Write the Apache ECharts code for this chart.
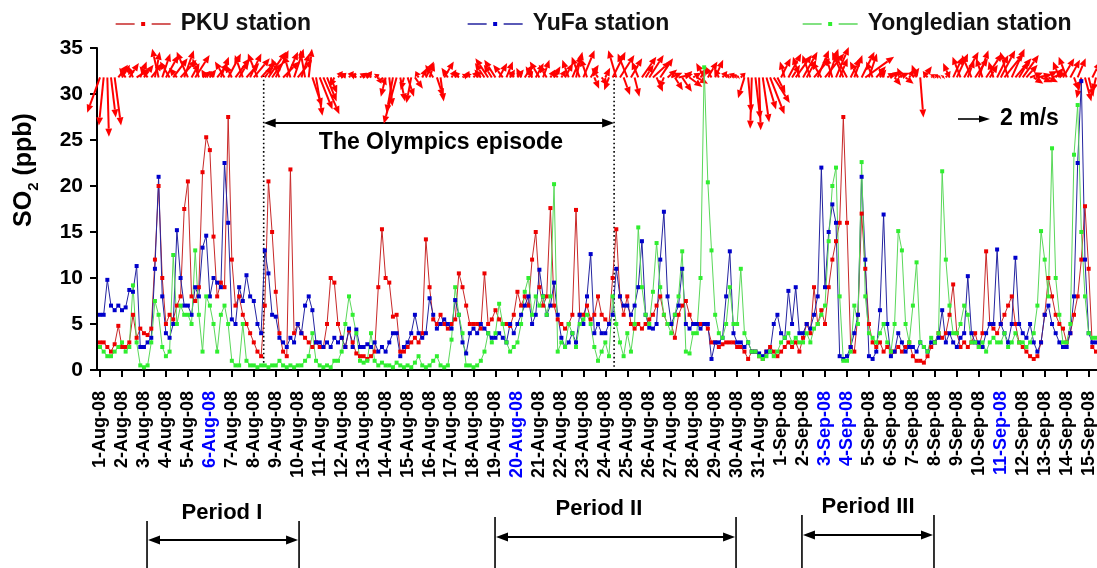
<!DOCTYPE html>
<html><head><meta charset="utf-8">
<script src="https://cdn.jsdelivr.net/npm/echarts@6/dist/echarts.min.js"></script>
<style>html,body{margin:0;padding:0;background:#fff}#c{width:1097px;height:568px}</style>
</head><body><div id="c"></div>
<script>
// ---------- tick labels (one per day, 1-Aug-08 .. 15-Sep-08) ----------
const dateLabels = ['1-Aug-08','2-Aug-08','3-Aug-08','4-Aug-08','5-Aug-08','6-Aug-08','7-Aug-08','8-Aug-08','9-Aug-08','10-Aug-08',
'11-Aug-08','12-Aug-08','13-Aug-08','14-Aug-08','15-Aug-08','16-Aug-08','17-Aug-08','18-Aug-08','19-Aug-08','20-Aug-08',
'21-Aug-08','22-Aug-08','23-Aug-08','24-Aug-08','25-Aug-08','26-Aug-08','27-Aug-08','28-Aug-08','29-Aug-08','30-Aug-08','31-Aug-08',
'1-Sep-08','2-Sep-08','3-Sep-08','4-Sep-08','5-Sep-08','6-Sep-08','7-Sep-08','8-Sep-08','9-Sep-08','10-Sep-08',
'11-Sep-08','12-Sep-08','13-Sep-08','14-Sep-08','15-Sep-08'];
const blueLabels = ['6-Aug-08','20-Aug-08','3-Sep-08','4-Sep-08','11-Sep-08'];
const yTicks = [0,5,10,15,20,25,30,35];

// ---------- SO2 (ppb), 4-hourly samples starting 1-Aug-08 00:00 (one row per day) ----------
const pku = [
3,3,2.5,2,2.8,4.8, 2.5,2.5,3,6,3.5,4.5, 4,3.8,4.5,12,20,10, 5,6,5.5,7,8,17.5, 20.5,8,7.5,9,21.5,25.3,
23.9,14.5,8,9.5,9,27.5, 12,7,8,6,5,4, 3,2,1.5,7,20.5,15, 8.5,4,2,1.5,21.8,4, 5,4,3.5,3,2.5,3,
2.5,2.5,5,10,9.5,5, 3.5,2.5,4.3,3,1.8,1.5, 1.5,1.2,1.5,2,9,15.3, 10,9.5,5.8,6,2,2, 2.5,3,3.5,3,4,14.2,
9,5.5,5,6,5,4.5, 5,5.5,10.5,9,7,5, 5,5,4.5,10.5,5,5.5, 6.5,5.5,5,5,4.8,6, 8.5,7,8,7,12,15,
9,7,8,17.6,7,5.5, 5,4.5,5,6,17.4,6, 6,7,5.5,6,8,6, 5.5,5,10,15.3,8,6, 8,5,4.5,5,4.5,5,
5.5,6,7,8,6,5, 5,3.5,6,7,7.5,6, 5,5,5,5,4.5,3, 3,2.5,2.8,3,3,3, 2.5,2.5,2,1.2,2,2,
1.5,1.2,2,2.5,2,1.5, 2,2.5,3,2.5,3,2, 3.5,5,4,9,5,6.5, 5,9,12,14,16,27.5, 16,2.5,2,6,17,11,
5,3,2.5,3,2,2.5, 2,2,2.5,2,2.5,3, 1.5,1,1,0.8,1.5,2.5, 3,4,3.5,4,6,9.3, 4,2.5,3,2.5,3,4,
2.5,4,12.9,5,4.5,4, 5,6,7,8,5,3, 2.5,2,1.5,1.2,1.5,3, 6,10,8,6,5,4.5, 3,4,6,8,12,17.8,
11,2.5,2];
const yufa = [
6,6,9.8,7,6.5,7, 6.5,6.8,8.7,8.5,11.3,2.5, 2.5,3,3.5,11,21,8, 4,3.5,5,15.2,10,7, 7,6,9,8,13.3,14.6,
8,10,9.5,9,22.5,16, 5.5,5,9,7.5,10.3,8, 7.5,5,4,13,10.5,6, 5.8,3.5,3,2.5,3.5,3, 5,4,7,8,6.5,3,
3,2.5,3,2.5,3.5,3, 3.5,2.5,4.5,2.5,4.4,2.5, 2.5,2.8,2.5,3,2,2.5, 2,3,4,4,1.5,2.5, 3,4,6,4,3.5,4,
7.8,6,4.5,5,5.5,5, 4.5,7.6,6,3,1.8,4, 4.5,4,5,4.5,4,3.5, 3.5,4,3.5,3,5,4, 5,6,7,8,5,6,
10.9,8,6,7,9.5,6, 3.5,2.5,3,4,3,6, 5,8,12.6,4,5,4, 4,5,6,11,8,7, 7,6,7,9,14,6,
4.6,4.5,5,12,17.2,8, 5,6,7,11,5,4.5, 5,5,4.5,5,5,1.2, 3,3,3.5,8,12.9,4, 3,3,2.5,3,2,2,
1.8,1.5,2,2,5,6, 4,3.5,8.6,5,9,4, 4,5,4.5,6,8,22, 9,15,18,16,1.5,1.2, 1.5,2.5,4,6,21,12,
1.5,1.2,2,6.5,16.9,5, 1.5,2,4,3,2,2.5, 2.5,2,3,2.5,2,3, 3,3.5,6.5,3,4,3, 2.5,3.5,4,10.2,4,3,
3,2.5,4,5,5,13.1, 5,4,3,5,12.2,5, 4,3.5,5,3,2,3, 6,7,5,4,3,2.5, 2.5,4,8,22.5,31.4,12,
4,3,3];
const yongledian = [
2.5,2,1.5,1.5,2,2.5, 3,2,2.5,9.2,3,0.5, 0.3,0.5,3,7.5,6,2.5, 1.5,2,12.5,5,7,6, 6,5,13,6,2,8,
7,5,2,6,7,5, 1,0.5,0.5,5,1,0.5, 0.5,0.3,0.5,0.5,0.3,0.5, 0.5,1,0.5,0.3,0.5,0.3, 0.5,0.5,1,1.5,4,1,
0.5,0.3,0.5,0.3,1,1, 2,5,8,6,4,1, 0.8,1,4,1,0.5,0.8, 0.5,0.5,0.3,0.8,0.5,0.3, 0.5,0.3,0.8,1.5,0.5,0.3,
0.5,1,1.5,0.5,0.3,0.5, 3.3,9,6,4,0.5,0.5, 0.3,0.5,1,2,4,3, 4,7.2,5,3,2,2.5, 3,5,8.5,10,6,8,
7,8,6,8,20.2,2, 3,2.5,5,4,2.5,5, 5.5,6,5,2.5,1,2, 3,1.5,8,5,3,1.5, 4,2,5,15.5,9,6,
5,8.5,13.8,9,6,5, 4,6,8,12.9,2,1.8, 4,4,10,32.9,20.4,13, 6,4,3.5,5,9,5, 5,11,4,3,2,2,
1.5,1.2,1.5,2,1.5,2, 3,3.5,4,3,3.5,3, 3,4,3,4.5,5,6, 7,14,20,22,8,1, 1,2,7,5,22.6,8,
4,3.5,3,4,5,3, 2,5,15.1,13,5,3, 7,11.7,3,2.5,2,3.5, 3,4,21.6,12,7,4, 4,5,7,6,3,3,
2.5,3,2,3,3.5,3, 3,4,2.5,3,4,3, 3,2.5,3,4,7,15.1, 12,8,24.1,10,6,3, 3,5,23.4,28.8,15,8,
4,3.5,3.5];

// ---------- PKU wind vectors (m/s), same 4-hourly samples: u = eastward, v = northward ----------
const windU = [
-0.8,-0.3,0.1,0.3,0.4,0.6, 0.5,-0.4,0.6,-0.3,0.8,0.4, 0.6,-0.5,0.7,0.3,-0.4,0.5, 0.8,-0.6,0.9,-0.5,1.0,0.6, -0.7,0.5,0.9,-0.4,0.6,-0.3,
0.4,-0.3,0.7,0.5,-0.6,0.8, -0.4,0.9,0.6,-0.5,0.8,0.7, 1.0,-0.6,0.9,0.5,1.1,0.6, 0.8,-0.5,1.0,0.7,-0.4,0.6, 0.9,0.5,-0.3,0.2,0.6,0.4,
0.8,1.0,0.6,0.4,-0.3,0.3, 0.3,-0.4,0.3,0.2,-0.3,0.4, 0.4,0.3,-0.3,0.3,0.2,0.3, -0.3,0.2,-0.4,-0.8,0.3,-0.2, 0.4,-0.3,0.5,-0.2,0.3,0.5,
0.3,-0.5,0.4,0.2,0.6,-0.4, 0.3,0.2,-0.3,0.3,0.2,-0.2, 0.3,0.2,-0.4,-0.6,-0.8,-0.5, -0.7,0.5,-0.6,0.4,0.3,-0.3, 0.4,-0.3,0.5,0.3,-0.4,0.5,
-0.6,0.4,-0.5,0.3,0.4,-0.3, 0.3,0.5,-0.4,0.6,0.4,-0.5, 0.7,-0.4,0.5,0.3,-0.4,0.4, 0.3,-0.3,0.8,-0.5,0.9,0.4, -0.6,0.7,0.3,-0.4,0.9,0.5,
0.9,1.1,0.4,0.8,-0.3,0.6, 0.7,0.5,0.9,0.6,0.4,0.8, 0.5,0.7,0.4,-0.5,0.6,-0.4, 0.5,-0.3,0.3,0.2,0.3,0.2, 0.1,0.3,-0.4,0.2,-0.1,0.3,
0.1,0.4,0.6,0.9,1.0,0.5, 0.6,-0.3,0.8,0.5,1.0,-0.4, 0.9,0.6,-0.5,1.0,0.7,-0.6, 1.2,0.6,-0.4,0.8,0.5,-0.7, -0.8,0.6,0.5,-0.5,0.8,1.8,
0.5,-0.4,0.6,0.4,-0.3,0.5, 0.6,0.4,0.7,-0.3,0.5,0.3, 0.4,-0.3,0.2,0.5,-0.3,0.2, 0.2,0.1,0.1,0.3,-0.4,0.6, 0.7,-0.5,0.9,0.4,-0.6,0.8,
0.6,-0.4,1.0,0.5,-0.3,0.7, 0.9,1.2,-0.5,0.8,1.0,0.6, 1.0,0.7,0.8,0.6,0.9,0.7, 0.8,0.6,0.9,0.5,-0.4,0.7, -0.5,0.6,0.3,0.5,-0.3,0.4,
0.3,0.5,-0.2];
const windV = [
-2.2,-3.0,-3.7,-2.5,-3.0,0.8, 0.8,0.6,0.9,0.7,0.5,1.0, 0.8,0.7,0.9,1.6,1.8,1.5, 1.4,1.0,1.2,0.6,1.1,1.7, 1.6,0.9,1.4,1.2,0.4,0.5,
0.5,0.4,0.9,1.3,1.0,1.5, 0.8,1.2,1.0,1.4,0.9,1.5, 1.2,1.5,1.0,0.7,1.6,0.9, 1.7,1.2,1.0,1.6,1.4,1.8, 1.1,1.5,1.7,1.8,-1.8,-2.4,
-2.0,-2.3,-1.5,-1.0,-0.6,0.4, 0.3,0.3,0.4,0.3,0.2,0.3, 0.3,0.4,0.3,0.2,-0.4,-0.5, -1.2,-1.8,-2.2,-2.9,-1.5,-0.8, -1.2,-1.6,-0.7,0.4,0.6,1.0,
0.9,0.8,-1.2,-1.5,1.0,0.6, 0.5,0.3,0.4,0.2,0.4,0.3, 0.4,0.3,0.5,0.9,1.2,0.8, 1.1,0.9,0.8,1.0,0.5,0.4, 0.5,0.6,0.8,0.4,0.7,0.9,
1.0,1.1,0.8,0.5,0.7,0.4, 0.5,0.9,1.1,1.4,1.6,1.3, 1.7,1.2,0.8,-0.7,0.6,-0.5, 0.6,-0.8,1.6,1.7,1.4,-1.1, 1.5,1.2,-1.2,1.0,1.3,0.8,
1.4,1.0,-0.9,1.2,-0.7,0.5, 0.3,-0.8,0.2,-0.9,0.4,-0.6, 0.3,-0.4,0.6,0.9,1.0,0.7, 1.1,0.6,0.4,0.2,0.3,0.2, 0.1,0.3,-1.3,-2.2,-3.2,-2.6,
-3.3,-2.8,-2.0,-2.3,-1.6,-1.0, 1.2,1.0,1.5,0.8,1.4,1.3, 1.6,1.1,1.4,1.2,1.7,1.0, 1.5,1.8,1.3,1.9,1.2,1.6, 1.5,1.2,1.4,1.0,1.6,1.3,
1.5,1.0,0.7,0.5,0.6,0.3, 0.4,-0.5,0.3,0.6,-0.4,0.5, 0.6,0.8,-2.5,0.7,0.4,0.2, 0.2,0.1,0.1,0.4,0.9,1.3, 1.5,1.3,1.6,1.1,1.4,1.2,
1.7,1.2,1.5,0.8,1.0,1.4, 1.7,1.5,1.6,1.8,1.2,1.0, 1.4,0.8,0.3,-0.4,0.2,-0.3, 0.4,-0.3,0.3,0.6,1.0,1.2, 1.3,1.1,-0.8,1.2,-1.3,-1.5,
-1.2,1.0,-0.9];

// ---------- annotation date ranges (days after 1-Aug-08 00:00) ----------
const olympicsRange = [7.45, 23.4];
const periodNames = ['Period I', 'Period II', 'Period III'];
const periodRanges = [[2.14, 9.06], [17.98, 28.95], [31.95, 37.96]];
const periodLabelDays = [5.55, 22.71, 34.96];

// ---------- constants / layout ----------
const STEP = 1 / 6;          // 4 h sampling step in days
const WIND_BASE = 31.8;      // baseline of the vector plot on the SO2 axis
const WIND_SCALE = 16;       // px per m/s
const FONT = 'Liberation Sans, Arial, Helvetica, sans-serif';
const X_MIN = -0.137, X_MAX = 45.38;

const toXY = arr => arr.map((v, i) => [i * STEP, v]);
const windData = windU.map((u, i) => [i * STEP, WIND_BASE, u, windV[i]]);
const tickDays = dateLabels.map((_, i) => i);

const chart = echarts.init(document.getElementById('c'), null, {renderer: 'canvas'});

function stationSeries(name, data, mark, line) {
  return {
    name, type: 'line', data: toXY(data), symbol: 'rect', symbolSize: 4, showSymbol: true,
    showAllSymbol: true, silent: true, animation: false,
    lineStyle: {width: 1, color: line}, itemStyle: {color: mark},
    emphasis: {disabled: true}
  };
}

function legendAt(name, left) {
  return {
    data: [name], left, top: 11, padding: 0, itemWidth: 55, itemHeight: 5,
    selectedMode: false,
    lineStyle: {type: [19, 17], width: 1.3},
    textStyle: {fontSize: 23, fontWeight: 'bold', color: '#111', fontFamily: FONT, lineHeight: 26, padding: [0, 0, 0, 5]}
  };
}

const option = {
  backgroundColor: '#fff',
  animation: false,
  grid: {left: 97, right: 0, top: 48, bottom: 198, containLabel: false, outerBoundsMode: 'none'},
  legend: [legendAt('PKU station', 115), legendAt('YuFa station', 467), legendAt('Yongledian station', 802)],
  xAxis: {
    type: 'value', min: X_MIN, max: X_MAX,
    axisLine: {show: true, onZero: false, lineStyle: {color: '#000', width: 2}},
    axisTick: {show: true, customValues: tickDays, length: 7, lineStyle: {color: '#000', width: 2}},
    axisLabel: {
      customValues: tickDays, rotate: 90, margin: 21, fontSize: 18, fontWeight: 'bold', color: '#000', fontFamily: FONT,
      formatter: v => { const s = dateLabels[Math.round(v)]; return blueLabels.indexOf(s) >= 0 ? '{b|' + s + '}' : s; },
      rich: {b: {color: '#0000ff', fontSize: 18, fontWeight: 'bold', fontFamily: FONT}}
    },
    splitLine: {show: false}
  },
  yAxis: {
    type: 'value', min: yTicks[0], max: yTicks[yTicks.length - 1], interval: 5,
    axisLine: {show: true, onZero: false, lineStyle: {color: '#000', width: 2}},
    axisTick: {show: true, length: 7, lineStyle: {color: '#000', width: 2}},
    axisLabel: {fontSize: 21, fontWeight: 'bold', color: '#000', fontFamily: FONT, margin: 14, padding: [0, 0, 7, 0]},
    splitLine: {show: false}
  },
  series: [
    stationSeries('PKU station', pku, '#ee0000', '#c82828'),
    stationSeries('YuFa station', yufa, '#0000cc', '#2424a0'),
    stationSeries('Yongledian station', yongledian, '#30ee30', '#5ad85a'),
    {
      name: 'wind', type: 'custom', data: windData, silent: true, animation: false, clip: false,
      encode: {x: 0, y: 1},
      renderItem: function (params, api) {
        const t = api.value(0), base = api.value(1), u = api.value(2), v = api.value(3);
        const p = api.coord([t, base]);
        const dx = u * WIND_SCALE, dy = -v * WIND_SCALE;
        const len = Math.sqrt(dx * dx + dy * dy) || 0.01;
        const ux = dx / len, uy = dy / len;
        const x1 = p[0] + dx, y1 = p[1] + dy;
        const h = Math.min(8, len * 0.75), w = 3.4;
        const bx = x1 - ux * h, by = y1 - uy * h;
        return {type: 'group', children: [
          {type: 'line', shape: {x1: p[0], y1: p[1], x2: bx, y2: by}, style: {stroke: '#ff0000', lineWidth: 2}},
          {type: 'polygon', shape: {points: [[x1, y1], [bx - uy * w, by + ux * w], [bx + uy * w, by - ux * w]]}, style: {fill: '#ff0000'}}
        ]};
      }
    }
  ]
};
chart.setOption(option);

// ---------- annotations positioned through the axes ----------
function buildGraphics() {
  const P = (d, v) => chart.convertToPixel({gridIndex: 0}, [d, v]);
  const K = '#000';
  const els = [];
  const head = (x, y, dir) => ({type: 'polygon', shape: {points: [[x, y], [x - dir * 12, y - 4.5], [x - dir * 12, y + 4.5]]}, style: {fill: K}});
  // Olympics episode
  olympicsRange.forEach(d => {
    const a = P(d, WIND_BASE), b = P(d, 0);
    els.push({type: 'line', shape: {x1: a[0], y1: a[1] - 2, x2: b[0], y2: b[1]}, style: {stroke: K, lineWidth: 1.6, lineDash: [1.6, 2.6]}});
  });
  const ox0 = P(olympicsRange[0], 0)[0], ox1 = P(olympicsRange[1], 0)[0], oy = 123;
  els.push({type: 'line', shape: {x1: ox0 + 4, y1: oy, x2: ox1 - 4, y2: oy}, style: {stroke: K, lineWidth: 2}});
  els.push(head(ox0, oy, -1), head(ox1, oy, 1));
  els.push({type: 'text', x: (ox0 + ox1) / 2 + 2, y: 143, style: {text: 'The Olympics episode', fill: K, font: 'bold 23px ' + FONT, align: 'center', verticalAlign: 'middle'}});
  // wind scale arrow
  const sx = 958, sy = 119, sl = 2 * WIND_SCALE;
  els.push({type: 'line', shape: {x1: sx, y1: sy, x2: sx + sl - 8, y2: sy}, style: {stroke: K, lineWidth: 1.6}});
  els.push({type: 'polygon', shape: {points: [[sx + sl, sy], [sx + sl - 11, sy - 3.5], [sx + sl - 11, sy + 3.5]]}, style: {fill: K}});
  els.push({type: 'text', x: 1000, y: sy, style: {text: '2 m/s', fill: K, font: 'bold 23px ' + FONT, align: 'left', verticalAlign: 'middle'}});
  // periods
  const pLayout = [{top: 521, arrow: 540, text: 513}, {top: 517, arrow: 537, text: 509}, {top: 515, arrow: 535, text: 507}];
  periodRanges.forEach((r, i) => {
    const x0 = P(r[0], 0)[0], x1 = P(r[1], 0)[0], L = pLayout[i];
    els.push({type: 'line', shape: {x1: x0, y1: L.top, x2: x0, y2: 568}, style: {stroke: K, lineWidth: 1.6}});
    els.push({type: 'line', shape: {x1: x1, y1: L.top, x2: x1, y2: 568}, style: {stroke: K, lineWidth: 1.6}});
    els.push({type: 'line', shape: {x1: x0 + 4, y1: L.arrow, x2: x1 - 4, y2: L.arrow}, style: {stroke: K, lineWidth: 2}});
    els.push(head(x0 + 1, L.arrow, -1), head(x1 - 1, L.arrow, 1));
    els.push({type: 'text', x: P(periodLabelDays[i], 0)[0], y: L.text, style: {text: periodNames[i], fill: K, font: 'bold 22px ' + FONT, align: 'center', verticalAlign: 'middle'}});
  });
  // y-axis title with subscript
  els.push({type: 'text', x: 24, y: 170, rotation: Math.PI / 2, style: {
    text: '{a|SO}{s|2}{a| (ppb)}', align: 'center', verticalAlign: 'middle', fill: K,
    rich: {a: {font: 'bold 25px ' + FONT, fill: K, lineHeight: 34, verticalAlign: 'middle'},
           s: {font: 'bold 15px ' + FONT, fill: K, lineHeight: 34, verticalAlign: 'bottom'}}
  }});
  chart.setOption({graphic: {elements: els}});
}
buildGraphics();
</script>
</body></html>
